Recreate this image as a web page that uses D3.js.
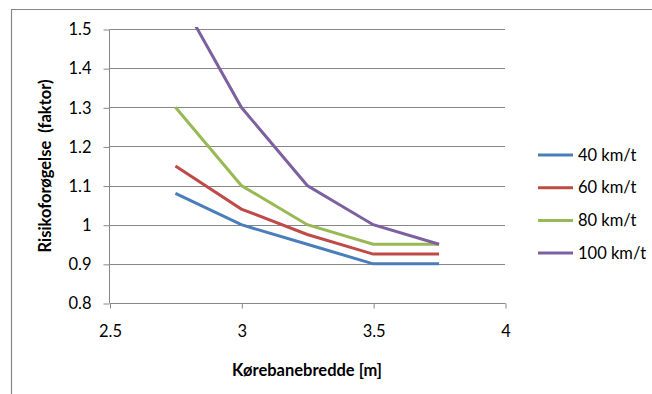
<!DOCTYPE html>
<html><head><meta charset="utf-8">
<script src="https://cdn.jsdelivr.net/npm/d3@7"></script>
<style>body{margin:0;background:#fff}svg{display:block}text{font-family:Lato,"Open Sans",sans-serif;fill:#000}</style>
</head><body><svg id="c" width="652" height="394"></svg>
<script>
const widths = [2.75, 3, 3.25, 3.5, 3.75];
const seriesNames = ["40 km/t", "60 km/t", "80 km/t", "100 km/t"];
const v40 = [1.08, 1.0, 0.95, 0.9, 0.9];
const v60 = [1.15, 1.04, 0.975, 0.925, 0.925];
const v80 = [1.3, 1.1, 1.0, 0.95, 0.95];
const v100 = [1.6, 1.3, 1.1, 1.0, 0.95];
const colors = ["#4A7EBB", "#BE4B48", "#98B954", "#7D60A0"];
const xTicks = [2.5, 3, 3.5, 4];
const yTicks = [0.8, 0.9, 1.0, 1.1, 1.2, 1.3, 1.4, 1.5];
const xTitle = "Kørebanebredde [m]";
const yTitle = "Risikoforøgelse  (faktor)";

const svg = d3.select("#c");
const L = 109.5, R = 505, T = 29, B = 303;
const x = d3.scaleLinear().domain([2.5, 4]).range([L, R]);
const y = d3.scaleLinear().domain([0.8, 1.5]).range([B, T]);
const grey = "#878787";

// outer frame
svg.append("path").attr("d", `M11.5,394 V9.5 H652`).attr("fill","none").attr("stroke",grey).attr("stroke-width",1.2);

// gridlines
svg.append("g").selectAll("line").data(yTicks.filter(d=>d>0.8)).join("line")
  .attr("x1", L).attr("x2", R).attr("y1", d=>Math.round(y(d))+0.5).attr("y2", d=>Math.round(y(d))+0.5)
  .attr("stroke", grey).attr("stroke-width", 1);

// axes
const yAxis = d3.axisLeft(y).tickValues(yTicks).tickSize(6).tickPadding(12).tickFormat(d=>d3.format("")(+d.toFixed(1)));
const gy = svg.append("g").attr("transform",`translate(${L},0.5)`).call(yAxis);
const xAxis = d3.axisBottom(x).tickValues(xTicks).tickSize(5).tickPadding(17).tickFormat(d=>String(d));
const gx = svg.append("g").attr("transform",`translate(0.5,${Math.round(B)+0.5})`).call(xAxis);
[gx, gy].forEach(g=>{
  g.select(".domain").attr("stroke", grey);
  g.selectAll(".tick line").attr("stroke", grey);
  g.selectAll("text").style("font-family","Lato, sans-serif").style("font-size","16.5px").attr("fill","#000");
});
gx.select(".domain").attr("d", `M${L},0H${R}`);
gy.select(".domain").attr("d", `M0,${T}V${B}`);

// clip
svg.append("clipPath").attr("id","clip").append("rect").attr("x",L).attr("y",T-2).attr("width",R-L).attr("height",B-T+4);

const all = [v40, v60, v80, v100];
const line = d3.line().x((d,i)=>x(widths[i])).y(d=>y(d));
svg.append("g").attr("clip-path","url(#clip)").selectAll("path").data(all).join("path")
  .attr("d", d=>line(d)).attr("fill","none").attr("stroke",(d,i)=>colors[i]).attr("stroke-width",3);

// legend
const lg = svg.append("g");
seriesNames.forEach((n,i)=>{
  const yy = 155 + i*32.7;
  lg.append("line").attr("x1",538).attr("x2",573).attr("y1",yy).attr("y2",yy).attr("stroke",colors[i]).attr("stroke-width",3);
  lg.append("text").attr("x",578).attr("y",yy+5.5).style("font-size","16.5px").text(n);
});

// titles
svg.append("text").attr("x",307).attr("y",376).attr("text-anchor","middle").style("font-size","16.5px").style("font-weight","bold").text(xTitle);
svg.append("text").attr("transform","translate(51,166) rotate(-90)").attr("text-anchor","middle").style("font-size","16.5px").style("font-weight","bold").style("white-space","pre").text(yTitle);
</script></body></html>
